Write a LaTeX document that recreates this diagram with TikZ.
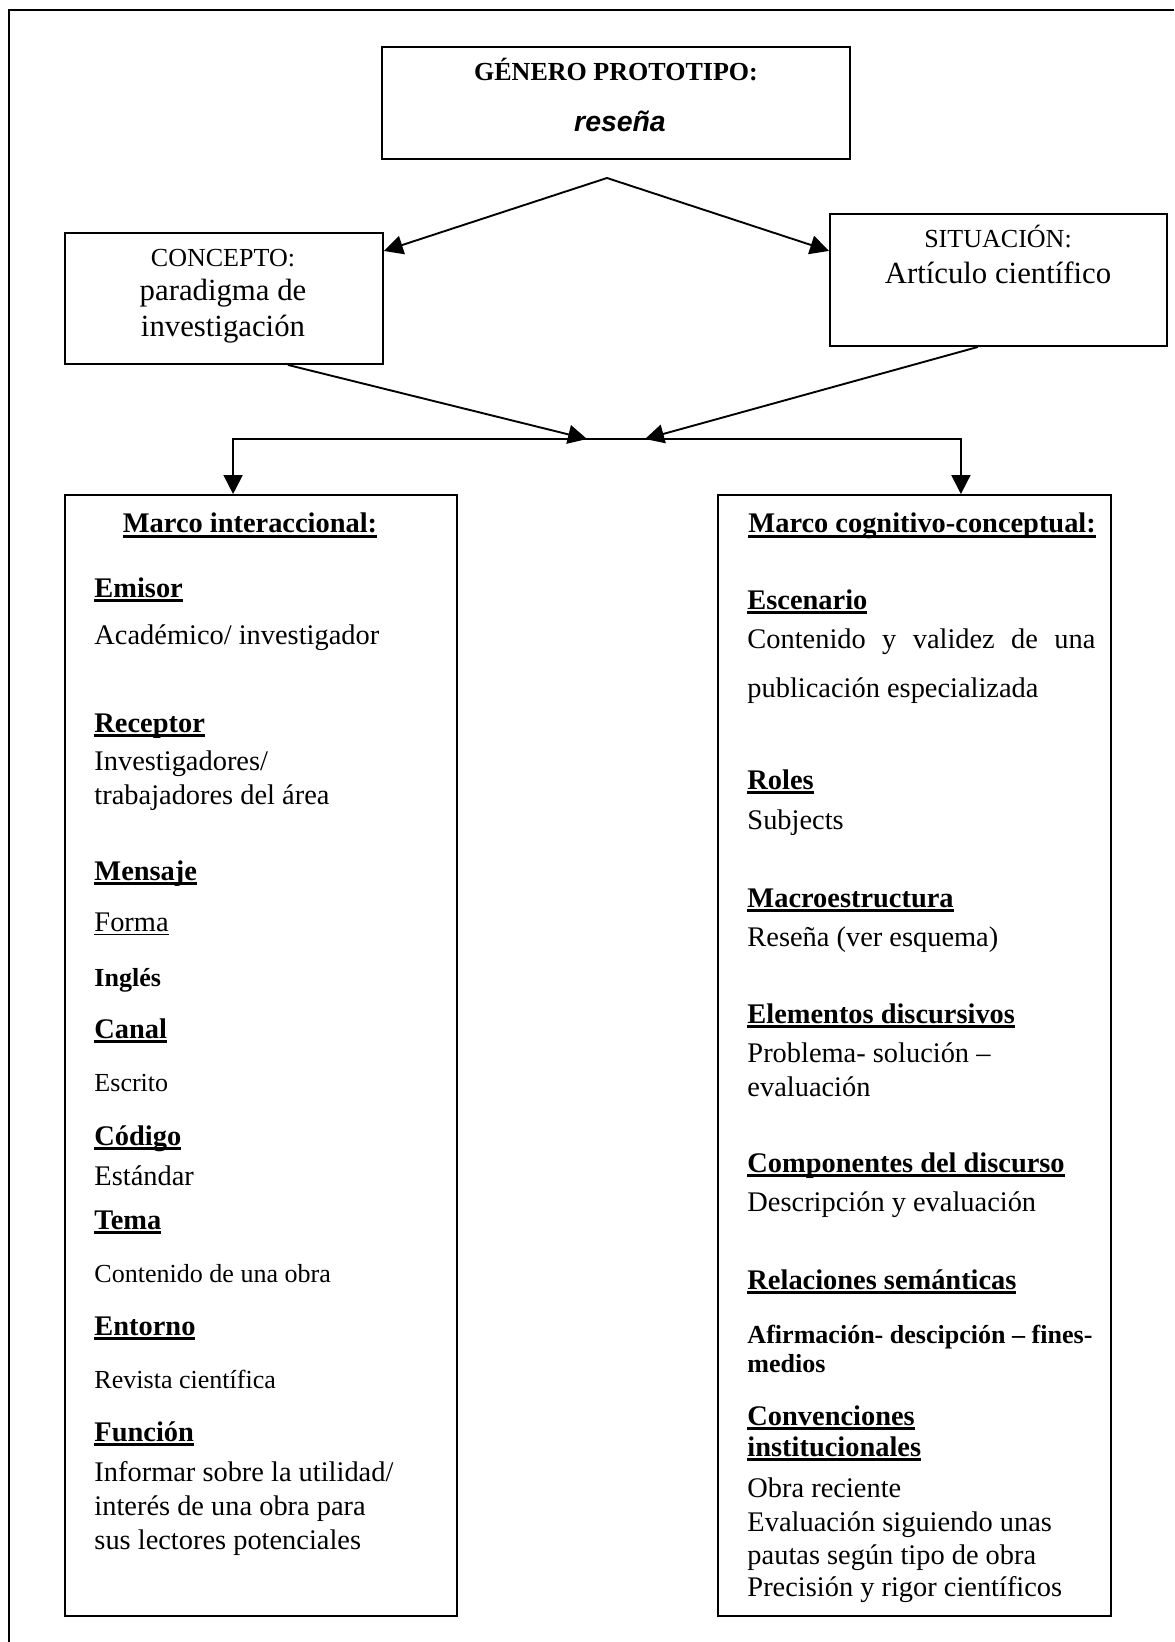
\documentclass[tikz,border=0pt]{standalone}
\usepackage{fontspec}
\setmainfont{Liberation Serif}
\setsansfont{Liberation Sans}
\usepackage{tikz}
\usetikzlibrary{arrows.meta}
\tikzstyle{arrow} = [line width=0.8pt,-{Triangle[length=8pt,width=8pt]}]
\newcommand{\px}{0.4225pt}
\newsavebox{\cajatxt}
\newcommand{\subrayar}[3]{\sbox{\cajatxt}{#1}\rlap{\rule[-#2]{\wd\cajatxt}{#3}}\usebox{\cajatxt}}
\newcommand{\cab}[1]{\subrayar{\textbf{#1}}{2.1pt}{1.1pt}}

\begin{document}
\begin{tikzpicture}[x=0.4225pt, y=-0.4225pt, font=\fontsize{12}{14}\selectfont]
   \tikzset{caja/.style={draw, rectangle, line width=0.8pt, inner sep=0pt},
   linea/.style={anchor=base west, inner sep=0pt},
   centro/.style={anchor=base, inner sep=0pt},
   chica/.style={linea, font=\fontsize{11}{13}\selectfont},
   grande/.style={centro, font=\fontsize{13}{15}\selectfont},
   rotulo/.style={centro, font=\fontsize{11}{13}\selectfont}
   }
 \useasboundingbox (0,0) rectangle (1174,1642);
 % marco de la pagina
 \draw[line width=1.2pt] (9,1642) -- (9,10) -- (1174,10);

 % cajas de arriba
 \node [caja, minimum width={468*\px}, minimum height={112*\px}] (genero) at (616,103) {};
 \node [rotulo, font=\fontsize{11}{13}\selectfont\bfseries] (generotit) at (616,81) {GÉNERO PROTOTIPO:};
 \node [centro, font=\fontsize{12}{14}\selectfont\sffamily\bfseries\itshape] (resena) at (620,132) {reseña};

 \node [caja, minimum width={318*\px}, minimum height={131*\px}] (concepto) at (224,298.5) {};
 \node [rotulo] (conceptotit) at (223,267) {CONCEPTO:};
 \node [grande] (paradigma) at (223,301) {paradigma de};
 \node [grande] (investig) at (223,337) {investigación};

 \node [caja, minimum width={337*\px}, minimum height={132*\px}] (situacion) at (998.5,280) {};
 \node [rotulo] (situaciontit) at (998,248) {SITUACIÓN:};
 \node [grande] (articulo) at (998,284) {Artículo científico};

 % marcos de abajo
 \node [caja, minimum width={392*\px}, minimum height={1121*\px}] (interac) at (261,1055.5) {};
 \node [caja, minimum width={393*\px}, minimum height={1121*\px}] (cognit) at (914.5,1055.5) {};

 \coordinate (apex) at (607,178);
 \coordinate (llega1) at (587,439);
 \coordinate (llega2) at (645,439);
 \coordinate (barra) at (600,439);

 \draw [arrow] (apex) -- ([yshift=-8pt]concepto.north east);
 \draw [arrow] (apex) -- ([yshift=-16pt]situacion.north west);
 \draw [arrow] ([xshift=27pt]concepto.south) -- (llega1);
 \draw [arrow] ([xshift=-8.7pt]situacion.south) -- (llega2);
 \draw [arrow] (barra) -| ([xshift=-11.8pt]interac.north);
 \draw [arrow] (barra) -| ([xshift=19.6pt]cognit.north);

 % marco interaccional
 \node [centro] (izq0) at (250,533) {\cab{Marco interaccional:}};
 \node [linea] (izq1) at (94,597) {\cab{Emisor}};
 \node [linea] (izq2) at (94,644) {Académico/ investigador};
 \node [linea] (izq3) at (94,732) {\cab{Receptor}};
 \node [linea] (izq4) at (94,770) {Investigadores/};
 \node [linea] (izq5) at (94,804) {trabajadores del área};
 \node [linea] (izq6) at (94,880) {\cab{Mensaje}};
 \node [linea] (izq7) at (94,931) {\subrayar{Forma}{1.6pt}{0.45pt}};
 \node [chica] (izq8) at (94,986) {\textbf{Inglés}};
 \node [linea] (izq9) at (94,1038) {\cab{Canal}};
 \node [chica] (izq10) at (94,1091) {Escrito};
 \node [linea] (izq11) at (94,1145) {\cab{Código}};
 \node [linea] (izq12) at (94,1185) {Estándar};
 \node [linea] (izq13) at (94,1229) {\cab{Tema}};
 \node [chica] (izq14) at (94,1282) {Contenido de una obra};
 \node [linea] (izq15) at (94,1335) {\cab{Entorno}};
 \node [chica] (izq16) at (94,1388) {Revista científica};
 \node [linea] (izq17) at (94,1441) {\cab{Función}};
 \node [linea] (izq18) at (94,1481) {Informar sobre la utilidad/};
 \node [linea] (izq19) at (94,1515) {interés de una obra para};
 \node [linea] (izq20) at (94,1549) {sus lectores potenciales};

 % marco cognitivo-conceptual
 \node [linea] (der0) at (748,533) {\cab{Marco cognitivo-conceptual:}};
 \node [linea] (der1) at (747,609) {\cab{Escenario}};
 \node [linea] (der2) at (747,648) {\makebox[147pt][s]{Contenido y validez de una}};
 \node [linea] (der3) at (747,697) {publicación especializada};
 \node [linea] (der4) at (747,789) {\cab{Roles}};
 \node [linea] (der5) at (747,829) {Subjects};
 \node [linea] (der6) at (747,907) {\cab{Macroestructura}};
 \node [linea] (der7) at (747,946) {Reseña (ver esquema)};
 \node [linea] (der8) at (747,1023) {\cab{Elementos discursivos}};
 \node [linea] (der9) at (747,1062) {Problema- solución –};
 \node [linea] (der10) at (747,1096) {evaluación};
 \node [linea] (der11) at (747,1172) {\cab{Componentes del discurso}};
 \node [linea] (der12) at (747,1211) {Descripción y evaluación};
 \node [linea] (der13) at (747,1289) {\cab{Relaciones semánticas}};
 \node [chica] (der14) at (747,1343) {\textbf{Afirmación- descipción – fines-}};
 \node [chica] (der15) at (747,1372) {\textbf{medios}};
 \node [linea] (der16) at (747,1425) {\cab{Convenciones}};
 \node [linea] (der17) at (747,1456) {\cab{institucionales}};
 \node [linea] (der18) at (747,1497) {Obra reciente};
 \node [linea] (der19) at (747,1531) {Evaluación siguiendo unas};
 \node [linea] (der20) at (747,1564) {pautas según tipo de obra};
 \node [linea] (der21) at (747,1596) {Precisión y rigor científicos};
\end{tikzpicture}
\end{document}
